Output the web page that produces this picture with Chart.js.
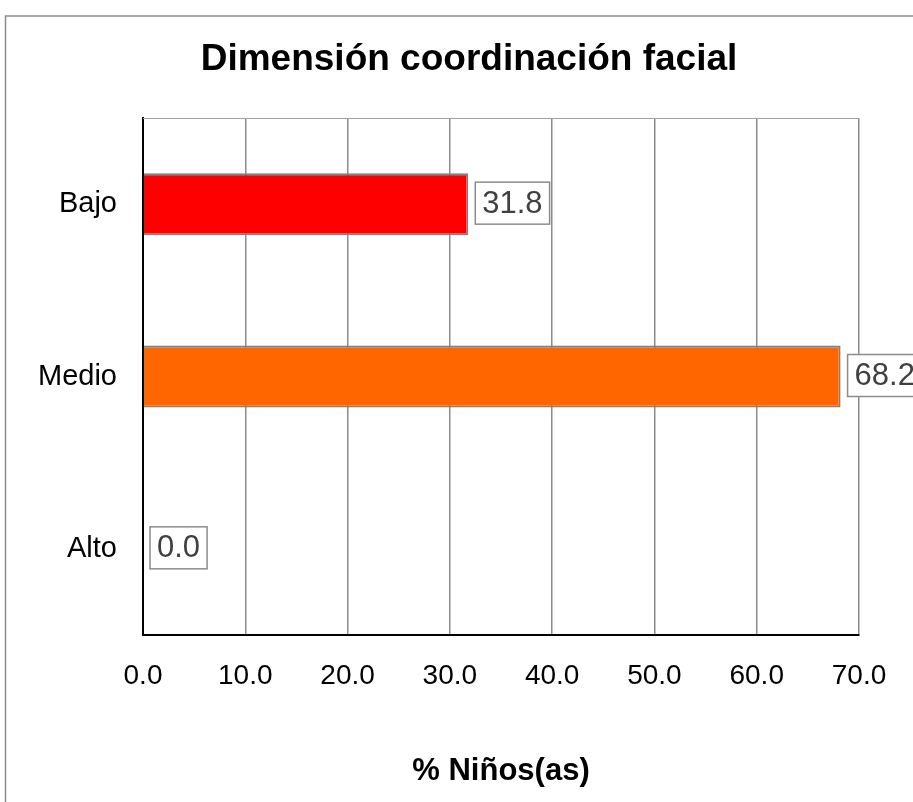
<!DOCTYPE html>
<html>
<head>
<meta charset="utf-8">
<script src="https://cdn.jsdelivr.net/npm/chart.js@4.4.1/dist/chart.umd.min.js"></script>
<style>
  html, body { margin: 0; padding: 0; background: #ffffff; }
  #wrap { width: 913px; height: 802px; }
</style>
</head>
<body>
<div id="wrap"><canvas id="c" width="913" height="802"></canvas></div>
<script>
const categories = ["Bajo", "Medio", "Alto"];
const values = [31.8, 68.2, 0.0];
const barColors = ["#FF0000", "#FF6600", "#FF6600"];
const xTicks = [0, 10, 20, 30, 40, 50, 60, 70];
const chartTitle = "Dimensión coordinación facial";
const xAxisTitle = "% Niños(as)";

const FONT = "'Liberation Sans', Arial, sans-serif";

const framePlugin = {
  id: 'frame',
  beforeDraw(chart) {
    const ctx = chart.ctx;
    ctx.save();
    ctx.fillStyle = '#ffffff';
    ctx.fillRect(0, 0, chart.width, chart.height);
    ctx.strokeStyle = '#8c8c8c';
    ctx.lineWidth = 1.5;
    ctx.strokeRect(5.5, 16, 2000, 2000);
    ctx.restore();
  },
  afterDatasetsDraw(chart) {
    const ctx = chart.ctx;
    const a = chart.chartArea;
    ctx.save();
    ctx.strokeStyle = '#a0a0a0';
    ctx.lineWidth = 1;
    ctx.beginPath();
    ctx.moveTo(a.left, a.top + 0.5);
    ctx.lineTo(a.right, a.top + 0.5);
    ctx.stroke();
    ctx.restore();
  }
};

const labelPlugin = {
  id: 'valueLabels',
  afterDraw(chart) {
    const ctx = chart.ctx;
    const meta = chart.getDatasetMeta(0);
    ctx.save();
    ctx.font = "31px " + FONT;
    ctx.textBaseline = 'middle';
    ctx.textAlign = 'left';
    meta.data.forEach((el, i) => {
      const txt = values[i].toFixed(1);
      const w = ctx.measureText(txt).width;
      const bx = el.x + 7;
      const bw = w + 14;
      const bh = 42;
      const by = el.y - bh / 2 - 1;
      ctx.fillStyle = '#ffffff';
      ctx.fillRect(bx, by, bw, bh);
      ctx.strokeStyle = '#8c8c8c';
      ctx.lineWidth = 1.5;
      ctx.strokeRect(bx, by, bw, bh);
      ctx.fillStyle = '#404040';
      ctx.fillText(txt, bx + 7, el.y);
    });
    ctx.restore();
  }
};

new Chart(document.getElementById('c'), {
  type: 'bar',
  data: {
    labels: categories,
    datasets: [{
      data: values,
      backgroundColor: barColors,
      borderColor: '#808080',
      borderWidth: 2,
      categoryPercentage: 1.0,
      barPercentage: 0.36
    }]
  },
  options: {
    indexAxis: 'y',
    responsive: false,
    animation: false,
    devicePixelRatio: 1,
    layout: { padding: { left: 25, right: 0, top: 0, bottom: 0 } },
    plugins: {
      legend: { display: false },
      tooltip: { enabled: false },
      title: {
        display: true,
        text: chartTitle,
        color: '#000000',
        font: { family: FONT, size: 37, weight: 'bold', lineHeight: 1.2 },
        padding: { top: 38, bottom: 35.6 }
      }
    },
    scales: {
      x: {
        type: 'linear',
        position: 'bottom',
        min: 0,
        max: 70,
        afterBuildTicks(scale) { scale.ticks = xTicks.map(v => ({ value: v })); },
        afterFit(scale) { scale.height = 167; },
        ticks: {
          color: '#000000',
          padding: 24,
          font: { family: FONT, size: 28, lineHeight: 1.2 },
          callback: (v) => Number(v).toFixed(1),
          maxRotation: 0
        },
        grid: { color: '#8c8c8c', lineWidth: 1.5, drawTicks: false },
        border: { color: '#000000', width: 2 },
        title: {
          display: true,
          text: xAxisTitle,
          color: '#000000',
          font: { family: FONT, size: 31, weight: 'bold', lineHeight: 1.2 },
          padding: { top: 0, bottom: 12 }
        }
      },
      y: {
        type: 'category',
        position: 'left',
        afterFit(scale) { scale.width = 118; },
        ticks: {
          color: '#000000',
          padding: 26,
          font: { family: FONT, size: 29, lineHeight: 1.2 }
        },
        grid: { display: false, drawTicks: false },
        border: { color: '#000000', width: 2 }
      },
      spacer: {
        type: 'linear',
        position: 'right',
        afterFit(scale) { scale.width = 54; },
        ticks: { display: false },
        grid: { display: false, drawTicks: false },
        border: { display: false }
      }
    }
  },
  plugins: [framePlugin, labelPlugin]
});
</script>
</body>
</html>
